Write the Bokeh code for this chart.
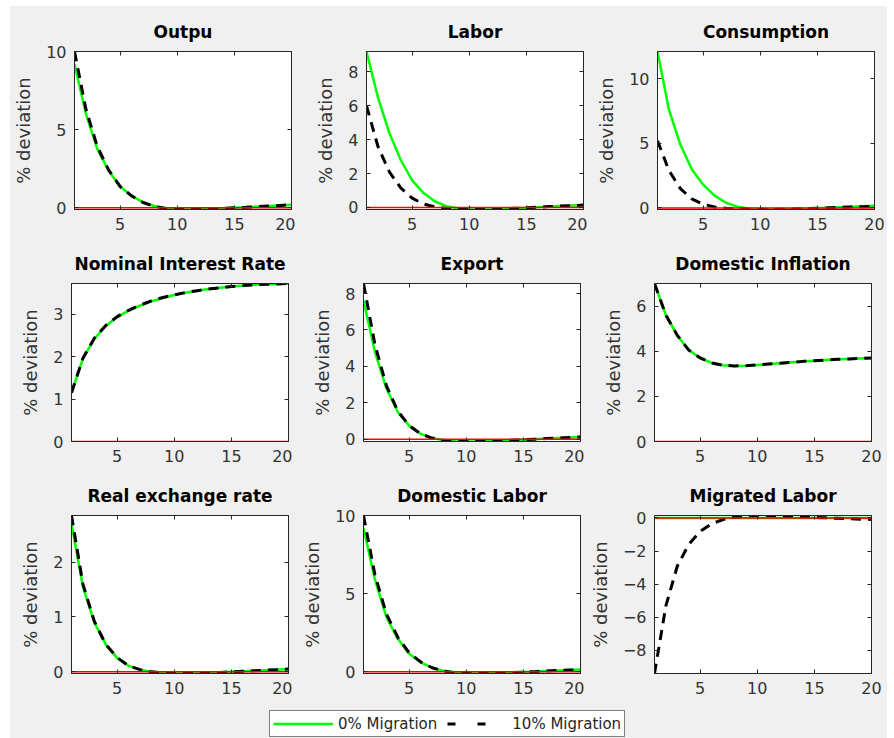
from bokeh.plotting import figure
from bokeh.layouts import row, column
from bokeh.models import Range1d, LinearAxis, FixedTicker, Legend, LegendItem
from bokeh.embed import file_html
from bokeh.resources import INLINE

# ---------------- data ----------------
periods = list(range(1, 21))
x_ticks = [5, 10, 15, 20]
steady_state = [0.0] * 20

output_0 = [9.2, 6.0, 3.75, 2.35, 1.35, 0.75, 0.35, 0.1, -0.04, -0.1, -0.12, -0.11, -0.08, -0.05, -0.01, 0.02, 0.06, 0.1, 0.14, 0.18]
output_10 = [10.0, 6.3, 3.9, 2.4, 1.35, 0.75, 0.33, 0.08, -0.05, -0.11, -0.12, -0.11, -0.08, -0.05, -0.01, 0.02, 0.06, 0.1, 0.14, 0.18]
output_ticks = [0, 5, 10]

labor_0 = [9.2, 6.5, 4.4, 2.8, 1.6, 0.85, 0.35, 0.08, -0.05, -0.1, -0.12, -0.11, -0.08, -0.05, -0.02, 0.02, 0.06, 0.09, 0.12, 0.15]
labor_10 = [6.0, 3.6, 2.1, 1.15, 0.55, 0.2, 0.03, -0.06, -0.1, -0.12, -0.12, -0.1, -0.08, -0.05, -0.02, 0.02, 0.05, 0.08, 0.11, 0.14]
labor_ticks = [0, 2, 4, 6, 8]

consumption_0 = [12.1, 7.6, 4.9, 3.0, 1.8, 0.95, 0.4, 0.1, -0.05, -0.1, -0.12, -0.11, -0.09, -0.06, -0.03, 0.01, 0.05, 0.09, 0.13, 0.17]
consumption_10 = [5.2, 2.9, 1.5, 0.7, 0.28, 0.08, -0.02, -0.07, -0.1, -0.11, -0.11, -0.1, -0.08, -0.05, -0.02, 0.01, 0.04, 0.07, 0.1, 0.13]
consumption_ticks = [0, 5, 10]

interest_0 = [1.15, 1.95, 2.42, 2.72, 2.93, 3.08, 3.2, 3.3, 3.38, 3.45, 3.5, 3.55, 3.59, 3.62, 3.65, 3.67, 3.69, 3.7, 3.71, 3.72]
interest_10 = [1.15, 1.96, 2.43, 2.73, 2.94, 3.09, 3.21, 3.31, 3.39, 3.45, 3.51, 3.55, 3.59, 3.62, 3.65, 3.67, 3.69, 3.7, 3.71, 3.72]
interest_ticks = [0, 1, 2, 3]

export_0 = [7.6, 4.8, 2.8, 1.5, 0.75, 0.3, 0.08, -0.05, -0.1, -0.12, -0.12, -0.1, -0.08, -0.05, -0.02, 0.01, 0.04, 0.07, 0.1, 0.13]
export_10 = [8.55, 5.2, 2.95, 1.55, 0.75, 0.3, 0.07, -0.06, -0.11, -0.12, -0.12, -0.1, -0.08, -0.05, -0.02, 0.01, 0.04, 0.07, 0.1, 0.13]
export_ticks = [0, 2, 4, 6, 8]

inflation_0 = [7.0, 5.6, 4.7, 4.05, 3.7, 3.48, 3.38, 3.35, 3.36, 3.39, 3.43, 3.47, 3.51, 3.55, 3.58, 3.61, 3.64, 3.66, 3.68, 3.7]
inflation_10 = [7.0, 5.6, 4.7, 4.05, 3.7, 3.48, 3.38, 3.35, 3.36, 3.39, 3.43, 3.47, 3.51, 3.55, 3.58, 3.61, 3.64, 3.66, 3.68, 3.7]
inflation_ticks = [0, 2, 4, 6]

rer_0 = [2.7, 1.55, 0.9, 0.5, 0.25, 0.11, 0.04, 0.0, -0.02, -0.03, -0.03, -0.03, -0.02, -0.01, 0.0, 0.01, 0.02, 0.03, 0.04, 0.05]
rer_10 = [2.85, 1.6, 0.92, 0.5, 0.26, 0.11, 0.04, 0.0, -0.02, -0.03, -0.03, -0.03, -0.02, -0.01, 0.0, 0.01, 0.02, 0.03, 0.04, 0.05]
rer_ticks = [0, 1, 2]

domlabor_0 = [9.2, 5.9, 3.5, 2.1, 1.15, 0.6, 0.25, 0.05, -0.06, -0.11, -0.12, -0.11, -0.09, -0.06, -0.03, 0.0, 0.04, 0.07, 0.1, 0.13]
domlabor_10 = [10.0, 6.2, 3.7, 2.2, 1.2, 0.62, 0.25, 0.04, -0.07, -0.12, -0.12, -0.11, -0.09, -0.06, -0.03, 0.0, 0.04, 0.07, 0.1, 0.13]
domlabor_ticks = [0, 5, 10]

migrated_0 = [0.0] * 20
migrated_10 = [-9.4, -5.3, -2.9, -1.6, -0.8, -0.35, -0.1, 0.05, 0.12, 0.15, 0.15, 0.13, 0.1, 0.07, 0.04, 0.01, -0.02, -0.05, -0.07, -0.09]
migrated_ticks = [-8, -6, -4, -2, 0]

titles = ["Outpu", "Labor", "Consumption",
          "Nominal Interest Rate", "Export", "Domestic Inflation",
          "Real exchange rate", "Domestic Labor", "Migrated Labor"]
series_0 = [output_0, labor_0, consumption_0, interest_0, export_0, inflation_0, rer_0, domlabor_0, migrated_0]
series_10 = [output_10, labor_10, consumption_10, interest_10, export_10, inflation_10, rer_10, domlabor_10, migrated_10]
y_ticks = [output_ticks, labor_ticks, consumption_ticks, interest_ticks, export_ticks, inflation_ticks, rer_ticks, domlabor_ticks, migrated_ticks]
y_label = "% deviation"
legend_labels = ["0% Migration", "10% Migration"]

# ---------------- style ----------------
FONT = "DejaVu Sans"
BG = "#f0f0f0"
AX = "#262626"
GREEN = "#00ff00"
RED = "#ff0000"
DASH = "10 7"
FW, FH = 217, 158
LEFTS = [61, 71, 70]
RIGHTS = [4, 4, 13]


def style_axis(ax, labels=True):
    ax.axis_line_color = AX
    ax.axis_line_width = 1
    ax.major_tick_in = 4
    ax.major_tick_out = 0
    ax.major_tick_line_color = AX
    ax.minor_tick_line_color = None
    ax.major_label_text_font = FONT
    if labels:
        ax.major_label_text_color = "#333333"
        ax.major_label_text_font_size = "16px"
        ax.major_label_standoff = 8
    else:
        # mirrored box ticks only (MATLAB "box on"): no labels drawn
        ax.major_label_text_color = None
        ax.major_label_text_font_size = "0px"
        ax.major_label_standoff = 0


def panel(i):
    col = i % 3
    g, d = series_0[i], series_10[i]
    lo = min(g + d + steady_state)
    hi = max(g + d + steady_state)
    p = figure(frame_width=FW, frame_height=FH,
               x_range=Range1d(periods[0], periods[-1]), y_range=Range1d(lo, hi),
               output_backend="svg", toolbar_location=None,
               min_border_left=LEFTS[col], min_border_right=RIGHTS[col],
               min_border_top=45, min_border_bottom=29,
               background_fill_color="white", border_fill_color=BG,
               outline_line_color=AX, outline_line_width=1)
    p.grid.visible = False

    p.xaxis.ticker = FixedTicker(ticks=x_ticks)
    p.yaxis.ticker = FixedTicker(ticks=y_ticks[i])
    style_axis(p.xaxis[0])
    style_axis(p.yaxis[0])
    p.yaxis.axis_label = y_label
    p.yaxis.axis_label_text_font = FONT
    p.yaxis.axis_label_text_font_size = "18px"
    p.yaxis.axis_label_text_font_style = "normal"
    p.yaxis.axis_label_text_color = "#333333"
    p.yaxis.axis_label_standoff = 9

    top = LinearAxis(ticker=FixedTicker(ticks=x_ticks))
    right = LinearAxis(ticker=FixedTicker(ticks=y_ticks[i]))
    style_axis(top, labels=False)
    style_axis(right, labels=False)
    p.add_layout(top, "above")
    p.add_layout(right, "right")

    p.title.text = titles[i]
    p.title.align = "center"
    p.title.text_font = FONT
    p.title.text_font_size = "17px"
    p.title.text_font_style = "bold"
    p.title.text_color = "black"
    p.title.standoff = 19

    p.line(periods, g, line_color=GREEN, line_width=2.5)
    p.line(periods, d, line_color="black", line_width=3, line_dash=DASH)
    p.line(periods, steady_state, line_color=RED, line_width=1.5)
    return p


panels = [panel(i) for i in range(9)]

# legend strip
lf = figure(frame_width=874, frame_height=36, min_border=0,
            x_range=Range1d(0, 1), y_range=Range1d(0, 1),
            x_axis_location=None, y_axis_location=None,
            output_backend="svg", toolbar_location=None,
            background_fill_color=BG, border_fill_color=BG, outline_line_color=None)
lf.grid.visible = False
r0 = lf.line(periods, output_0, line_color=GREEN, line_width=2.5, visible=False)
r10 = lf.line(periods, output_10, line_color="black", line_width=3, line_dash="8 22", visible=False)
legend = Legend(items=[LegendItem(label=legend_labels[0], renderers=[r0]),
                       LegendItem(label=legend_labels[1], renderers=[r10])],
                orientation="horizontal", location=(259, 1),
                glyph_width=60, glyph_height=19, label_height=19,
                label_standoff=5, spacing=10, padding=3, margin=0,
                border_line_color="black", border_line_width=1,
                background_fill_color="white", background_fill_alpha=1,
                inactive_fill_alpha=0,
                label_text_font=FONT, label_text_font_size="15px",
                label_text_color="#262626")
lf.add_layout(legend, "center")

bg_style = {"background-color": BG}
rows = [row(*panels[k:k + 3], spacing=0, styles=bg_style) for k in (0, 3, 6)]
layout = column(*rows, lf, spacing=0, styles=bg_style, margin=(6, 0, 0, 10))

open("out.html", "w").write(file_html(layout, INLINE))
